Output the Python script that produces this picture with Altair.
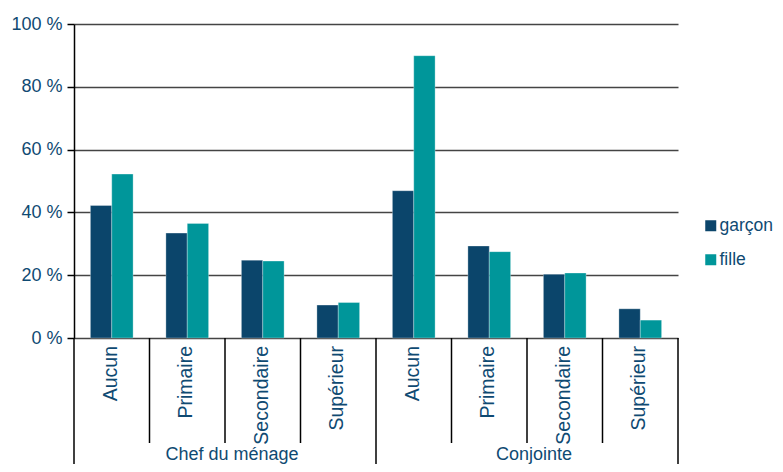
import altair as alt
import pandas as pd

groupes = ["Chef du ménage", "Conjointe"]
niveaux = ["Aucun", "Primaire", "Secondaire", "Supérieur"]
series = ["garçon", "fille"]
valeurs_garcon = [42.2, 33.4, 24.8, 10.5, 46.9, 29.3, 20.3, 9.3]
valeurs_fille = [52.2, 36.5, 24.5, 11.3, 89.9, 27.5, 20.7, 5.7]
y_ticks = [0, 20, 40, 60, 80, 100]
couleurs = ["#0b456b", "#00969a"]

keys = [f"{g}|{n}" for g in groupes for n in niveaux]
rows = []
for i, k in enumerate(keys):
    g, n = k.split("|")
    rows.append(dict(key=k, groupe=g, niveau=n, serie=series[0], valeur=valeurs_garcon[i]))
    rows.append(dict(key=k, groupe=g, niveau=n, serie=series[1], valeur=valeurs_fille[i]))
df = pd.DataFrame(rows)
cat = pd.DataFrame([
    dict(key=k, groupe=k.split("|")[0], niveau=k.split("|")[1],
         first=(k.split("|")[1] == niveaux[0]))
    for k in keys
])

W, H = 604, 314
TXT = "#0f4a72"
FONT = "Liberation Sans"

xscale = alt.Scale(domain=keys, paddingInner=0, paddingOuter=0)

bars = alt.Chart(df).mark_bar(stroke="#ffffff", strokeWidth=0.5, strokeOpacity=0.6).encode(
    x=alt.X("key:N", scale=xscale, axis=None),
    xOffset=alt.XOffset("serie:N", scale=alt.Scale(domain=series, paddingInner=0, paddingOuter=0.768)),
    y=alt.Y("valeur:Q", scale=alt.Scale(domain=[0, 100], nice=False),
            axis=alt.Axis(values=y_ticks, labelExpr="datum.value + ' %'", grid=True,
                          gridColor="#444444", gridWidth=1.5, domainColor="#000000",
                          domainWidth=1.5, tickColor="#000000", tickSize=7, tickWidth=1.5,
                          labelPadding=5, labelFontSize=18, labelColor=TXT, labelFont=FONT,
                          title=None)),
    color=alt.Color("serie:N", scale=alt.Scale(domain=series, range=couleurs),
                    legend=alt.Legend(title=None, orient="none", legendX=628, legendY=193,
                                      symbolType="square", symbolSize=121, symbolStrokeWidth=0,
                                      labelFontSize=17.5, labelFont=FONT, labelColor=TXT,
                                      labelOffset=0, rowPadding=15, padding=0)),
)

inner = alt.Chart(cat[~cat["first"]]).mark_rule(color="black", strokeWidth=1.5).encode(
    x=alt.X("key:N", scale=xscale, bandPosition=0, axis=None),
    y=alt.value(H), y2=alt.value(419),
)
outer = alt.Chart(cat[cat["first"]]).mark_rule(color="black", strokeWidth=1.5).encode(
    x=alt.X("key:N", scale=xscale, bandPosition=0, axis=None),
    y=alt.value(H), y2=alt.value(470),
)
last = alt.Chart(cat.tail(1)).mark_rule(color="black", strokeWidth=1.5).encode(
    x=alt.X("key:N", scale=xscale, bandPosition=1, axis=None),
    y=alt.value(H), y2=alt.value(470),
)
labels = alt.Chart(cat).mark_text(angle=270, align="right", baseline="middle",
                                  fontSize=19.5, color=TXT, font=FONT, dy=-1).encode(
    x=alt.X("key:N", scale=xscale, axis=None),
    y=alt.value(H + 8),
    text="niveau:N",
)
glabels = alt.Chart(cat[cat["niveau"] == niveaux[2]]).mark_text(
    align="center", baseline="alphabetic", fontSize=18, color=TXT, font=FONT, dx=7).encode(
    x=alt.X("key:N", scale=xscale, bandPosition=0, axis=None),
    y=alt.value(436),
    text="groupe:N",
)

chart = alt.layer(bars, inner, outer, last, labels, glabels).properties(
    width=W, height=H,
    padding={"left": 66, "top": 16, "right": 97, "bottom": 126},
    autosize=alt.AutoSizeParams(type="none"),
).configure_view(stroke=None)

chart.save("out.html", embed_options={"renderer": "svg", "actions": False})
